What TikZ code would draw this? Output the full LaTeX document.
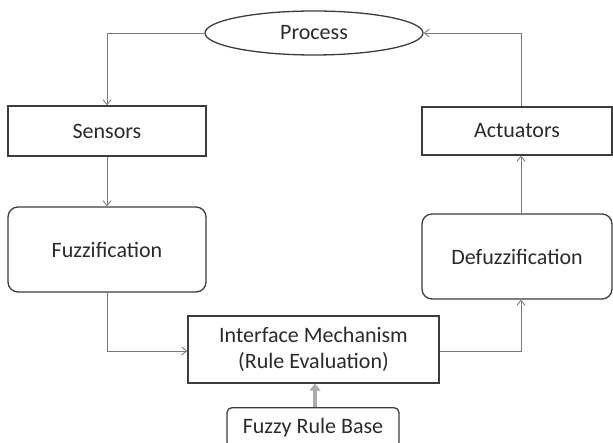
\documentclass[tikz,border=0pt]{standalone}
\usepackage{fontspec}
\setmainfont{Carlito}
\usetikzlibrary{shapes.geometric,arrows.meta,calc}
\definecolor{txt}{HTML}{2A2A2A}
\definecolor{edge}{HTML}{3C3C3C}
\definecolor{conn}{HTML}{7A7A7A}
\definecolor{feed}{HTML}{ABABAB}
\begin{document}
\begin{tikzpicture}[x=1pt,y=-1pt,
  every node/.style={text=txt,font=\fontsize{22}{27}\selectfont},
  blk/.style={draw=edge,line width=1.3pt,inner sep=0pt,align=center},
  rblk/.style={blk,rounded corners=10pt},
  link/.style={draw=conn,line width=0.9pt,-{Straight Barb[length=5pt,width=8pt]}},
  feedarrow/.style={draw=feed,line width=4.5pt,-{Triangle[length=7pt,width=11pt]}}]
\useasboundingbox (0,0) rectangle (613,443);
\node[blk,ellipse,minimum width=218pt,minimum height=44pt] (proc) at (314,33) {Process};
\node[blk,minimum width=198pt,minimum height=50pt] (sens) at (107,131) {Sensors};
\node[rblk,minimum width=198pt,minimum height=85pt] (fuzz) at (107,249.5) {Fuzzification};
\node[blk,minimum width=190pt,minimum height=48pt] (act) at (517,131) {Actuators};
\node[rblk,minimum width=190pt,minimum height=85pt] (defz) at (517,256.5) {Defuzzification};
\node[blk,minimum width=251pt,minimum height=67pt,font=\fontsize{22}{26}\selectfont] (intf) at (313.5,349.5) {Interface Mechanism\\(Rule Evaluation)};
\node[blk,rounded corners=5pt,minimum width=172pt,minimum height=40pt,anchor=north] (frb) at (313,407) {Fuzzy Rule Base};
\coordinate (c1) at (521,351);
\coordinate (c2) at (521,33);
\draw[link] (proc.west) -| (sens.north);
\draw[link] (sens.south) -- (fuzz.north);
\draw[link] (fuzz.south) |- (c1 -| intf.west);
\draw[link] (c1 -| intf.east) -- (c1) -- (c1 |- defz.south);
\draw[link] (c1 |- defz.north) -- (c1 |- act.south);
\draw[link] (c1 |- act.north) -- (c2) -- (proc.east);
\draw[feedarrow] ($(frb.north)+(2,0)$) -- ($(intf.south)+(1.5,0)$);
\end{tikzpicture}
\end{document}
